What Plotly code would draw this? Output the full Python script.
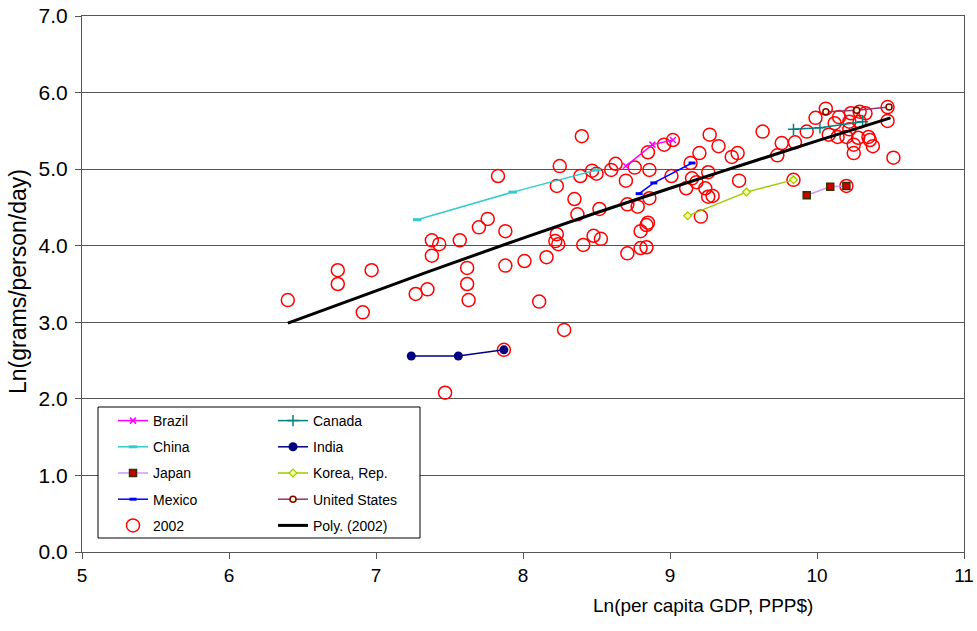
import plotly.graph_objects as go

# Country time paths: ln(per capita GDP, PPP$) vs ln(grams/person/day)
brazil_x = [8.70, 8.88, 9.02]
brazil_y = [5.04, 5.32, 5.38]
canada_x = [9.84, 10.02, 10.31]
canada_y = [5.52, 5.54, 5.62]
china_x = [7.28, 7.93, 8.50]
china_y = [4.34, 4.70, 4.99]
india_x = [7.24, 7.56, 7.87]
india_y = [2.56, 2.56, 2.64]
japan_x = [9.93, 10.09, 10.20]
japan_y = [4.66, 4.77, 4.78]
korea_x = [9.12, 9.52, 9.84]
korea_y = [4.39, 4.70, 4.86]
mexico_x = [8.79, 8.89, 9.15]
mexico_y = [4.68, 4.82, 5.08]
usa_x = [10.06, 10.27, 10.49]
usa_y = [5.75, 5.77, 5.81]

# Cross-section of countries, 2002
gdp_2002 = [6.40, 6.74, 6.74, 6.97, 6.91, 7.27, 7.35, 7.38, 7.43, 7.38,
            7.47, 7.57, 7.62, 7.62, 7.63, 7.70, 7.76, 7.83, 7.88, 7.88,
            7.87, 8.01, 8.11, 8.16, 8.28, 8.23, 8.25, 8.23, 8.22, 8.24,
            8.35, 8.37, 8.40, 8.39, 8.41, 8.47, 8.50, 8.48, 8.52, 8.53,
            8.60, 8.63, 8.70, 8.71, 8.71, 8.76, 8.78, 8.80, 8.84, 8.85,
            8.80, 8.84, 8.85, 8.86, 8.86, 8.96, 9.02, 9.01, 9.11, 9.14,
            9.15, 9.18, 9.20, 9.21, 9.24, 9.26, 9.26, 9.29, 9.27, 9.33,
            9.42, 9.46, 9.47, 9.63, 9.73, 9.76, 9.84, 9.85, 9.93, 9.99,
            10.06, 10.12, 10.15, 10.08, 10.14, 10.20, 10.22, 10.22, 10.23, 10.29,
            10.33, 10.29, 10.28, 10.25, 10.25, 10.35, 10.36, 10.38, 10.48, 10.48,
            10.52, 10.20]
cons_2002 = [3.29, 3.68, 3.50, 3.68, 3.13, 3.37, 3.43, 4.07, 4.02, 3.87,
             2.08, 4.07, 3.71, 3.50, 3.29, 4.24, 4.35, 4.91, 4.19, 3.74,
             2.64, 3.80, 3.27, 3.85, 2.90, 4.78, 5.04, 4.15, 4.06, 4.02,
             4.61, 4.41, 5.43, 4.91, 4.01, 4.98, 4.94, 4.13, 4.48, 4.09,
             4.99, 5.07, 4.85, 4.54, 3.90, 5.02, 4.51, 4.19, 4.27, 4.30,
             3.97, 3.98, 5.22, 4.99, 4.62, 5.32, 5.38, 4.91, 4.75, 5.08,
             4.88, 4.83, 5.21, 4.38, 4.75, 4.96, 4.64, 4.65, 5.45, 5.30,
             5.16, 5.21, 4.85, 5.49, 5.18, 5.34, 4.86, 5.35, 5.49, 5.67,
             5.79, 5.60, 5.68, 5.45, 5.42, 5.42, 5.52, 5.62, 5.73, 5.75,
             5.73, 5.62, 5.41, 5.32, 5.21, 5.42, 5.38, 5.30, 5.63, 5.81,
             5.15, 4.78]

# Polynomial trend of the 2002 cross-section
trend_x = [6.4, 7.0, 7.5, 8.0, 8.5, 9.0, 9.5, 10.0, 10.5]
trend_y = [2.99, 3.41, 3.76, 4.10, 4.43, 4.75, 5.06, 5.37, 5.67]

x_ticks = [5, 6, 7, 8, 9, 10, 11]
y_ticks = [0, 1, 2, 3, 4, 5, 6, 7]

FONT = "Liberation Sans"

fig = go.Figure()


def path(name, xs, ys, color, symbol, size, mcolor, mline, mwidth, legend):
    fig.add_trace(go.Scatter(
        x=xs, y=ys, name=name, mode="lines+markers",
        line=dict(color=color, width=1.5),
        marker=dict(symbol=symbol, size=size, color=mcolor,
                    line=dict(color=mline, width=mwidth)),
        legend=legend, legendgroup=name,
    ))


# 2002 circles first so paths and trend sit on top
fig.add_trace(go.Scatter(
    x=gdp_2002, y=cons_2002, name="2002", mode="markers",
    marker=dict(symbol="circle-open", size=13, color="#FF0000",
                line=dict(color="#FF0000", width=1.5)),
    legend="legend", legendgroup="2002",
))

path("Brazil", brazil_x, brazil_y, "#FF00FF", "x-thin-open", 6, "#FF00FF", "#FF00FF", 1.5, "legend")
path("Canada", canada_x, canada_y, "#008080", "cross-thin-open", 8, "#008080", "#008080", 1.5, "legend2")
path("China", china_x, china_y, "#33CCCC", "line-ew-open", 6, "#33CCCC", "#33CCCC", 3, "legend")
path("India", india_x, india_y, "#000080", "circle", 9, "#000080", "#000080", 0, "legend2")
path("Japan", japan_x, japan_y, "#CC99FF", "square", 7, "#CC0000", "#333300", 1.5, "legend")
path("Korea, Rep.", korea_x, korea_y, "#99CC00", "diamond", 6, "#FFFF99", "#99CC00", 1.2, "legend2")
path("Mexico", mexico_x, mexico_y, "#0000FF", "line-ew-open", 5, "#0000FF", "#0000FF", 3, "legend")
path("United States", usa_x, usa_y, "#993366", "circle", 6, "#FFFFCC", "#800000", 1.5, "legend2")

fig.add_trace(go.Scatter(
    x=trend_x, y=trend_y, name="Poly. (2002)", mode="lines",
    line=dict(color="#000000", width=3, shape="spline"),
    legend="legend2", legendgroup="poly",
))

# Legend order inside each column
order = {"Brazil": 1, "China": 2, "Japan": 3, "Mexico": 4, "2002": 5,
         "Canada": 1, "India": 2, "Korea, Rep.": 3, "United States": 4, "Poly. (2002)": 5}
for tr in fig.data:
    tr.legendrank = order[tr.name]

W, H = 977, 631
ML, MR, MT, MB = 82, 13, 16, 79
PW, PH = W - ML - MR, H - MT - MB


def px_x(p):
    return (p - ML) / PW


def px_y(p):
    return (H - MB - p) / PH


legend_common = dict(
    xanchor="left", yanchor="top", orientation="v",
    bgcolor="rgba(0,0,0,0)", borderwidth=0,
    font=dict(family=FONT, size=14, color="#000000"),
    tracegroupgap=5, itemclick=False, itemdoubleclick=False,
)

fig.update_layout(
    width=W, height=H,
    margin=dict(l=ML, r=MR, t=MT, b=MB, pad=0, autoexpand=False),
    paper_bgcolor="#FFFFFF", plot_bgcolor="#FFFFFF",
    font=dict(family=FONT, color="#000000"),
    showlegend=True,
    legend=dict(x=px_x(113), y=px_y(405), **legend_common),
    legend2=dict(x=px_x(273), y=px_y(405), **legend_common),
    shapes=[dict(
        type="rect", xref="paper", yref="paper", layer="above",
        x0=px_x(98), x1=px_x(420), y0=px_y(538), y1=px_y(407),
        line=dict(color="#000000", width=1), fillcolor="#FFFFFF",
    )],
    annotations=[
        dict(text="Ln(per capita GDP, PPP$)", xref="paper", yref="paper",
             x=px_x(703), y=px_y(605), xanchor="center", yanchor="middle",
             showarrow=False, font=dict(family=FONT, size=19, color="#000000")),
        dict(text="Ln(grams/person/day)", xref="paper", yref="paper",
             x=px_x(18), y=px_y(282), xanchor="center", yanchor="middle",
             textangle=-90, showarrow=False,
             font=dict(family=FONT, size=23, color="#000000")),
    ],
)

fig.update_xaxes(
    range=[5, 11], tickvals=x_ticks, ticktext=[str(v) for v in x_ticks],
    showgrid=False, zeroline=False, automargin=False,
    showline=True, linecolor="#555555", linewidth=1, mirror=True,
    ticks="outside", ticklen=6, tickcolor="#555555",
    tickfont=dict(family=FONT, size=19, color="#000000"),
)
fig.update_yaxes(
    range=[0, 7], tickvals=y_ticks, ticktext=[f"{v:.1f}" for v in y_ticks],
    showgrid=True, gridcolor="#555555", gridwidth=1, zeroline=False, automargin=False,
    showline=True, linecolor="#555555", linewidth=1, mirror=True,
    ticks="outside", ticklen=6, tickcolor="#555555", ticklabelstandoff=3,
    tickfont=dict(family=FONT, size=21, color="#000000"),
)

fig.write_html("out.html")
